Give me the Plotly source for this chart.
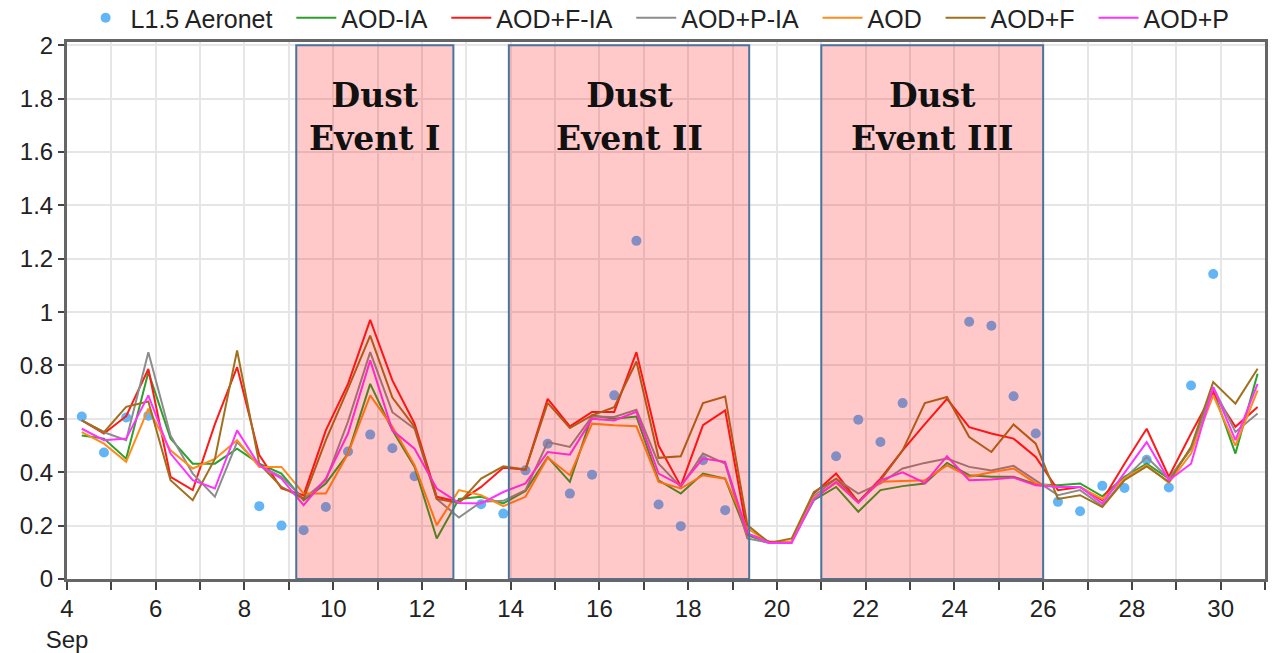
import pandas as pd
import plotly.graph_objects as go

# 12-hourly time stamps, Sep 4 08:00 to Sep 30 20:00
times = pd.date_range("2020-09-04 08:00", "2020-09-30 20:00", freq="12h")

aeronet = [0.609, 0.474, 0.605, 0.612, None, None, None, None, 0.273, 0.20,
           0.183, 0.27, 0.478, 0.541, 0.49, 0.385, None, None, 0.28, 0.245,
           0.407, 0.507, 0.32, 0.391, 0.688, 1.267, 0.279, 0.198, 0.445, 0.258,
           None, None, None, None, 0.46, 0.597, 0.513, 0.659, None, None,
           0.964, 0.949, 0.685, 0.545, 0.289, 0.254, 0.349, 0.341, 0.447, 0.343,
           0.725, 1.143, None, None]

aod_ia = [0.538, 0.526, 0.451, 0.775, 0.526, 0.432, 0.432, 0.488, 0.432, 0.395,
          0.295, 0.358, 0.47, 0.731, 0.557, 0.42, 0.152, 0.30, 0.308, 0.283,
          0.33, 0.457, 0.364, 0.613, 0.60, 0.609, 0.37, 0.32, 0.395, 0.376,
          0.164, 0.135, 0.14, 0.295, 0.345, 0.252, 0.333, 0.348, 0.358, 0.435,
          0.389, 0.383, 0.383, 0.355, 0.351, 0.358, 0.31, 0.383, 0.432, 0.376,
          0.488, 0.707, 0.47, 0.769]

aod_f_ia = [0.594, 0.545, 0.61, 0.787, 0.383, 0.333, 0.58, 0.794, 0.464, 0.339,
            0.314, 0.557, 0.731, 0.971, 0.744, 0.582, 0.308, 0.289, 0.345, 0.417,
            0.41, 0.675, 0.572, 0.626, 0.626, 0.85, 0.50, 0.348, 0.576, 0.632,
            0.17, 0.14, 0.14, 0.32, 0.395, 0.289, 0.376, 0.482, 0.58, 0.675,
            0.569, 0.545, 0.526, 0.457, 0.333, 0.345, 0.295, 0.432, 0.563, 0.383,
            0.545, 0.70, 0.57, 0.644]

aod_p_ia = [0.594, 0.55, 0.52, 0.85, 0.538, 0.395, 0.308, 0.513, 0.426, 0.383,
            0.30, 0.37, 0.59, 0.85, 0.625, 0.563, 0.30, 0.23, 0.289, 0.293,
            0.333, 0.513, 0.495, 0.609, 0.607, 0.634, 0.432, 0.345, 0.47, 0.432,
            0.152, 0.135, 0.14, 0.31, 0.376, 0.32, 0.358, 0.414, 0.435, 0.451,
            0.42, 0.407, 0.424, 0.37, 0.314, 0.333, 0.273, 0.376, 0.457, 0.376,
            0.488, 0.719, 0.551, 0.62]

aod = [0.55, 0.507, 0.439, 0.638, 0.482, 0.414, 0.45, 0.52, 0.42, 0.42,
       0.32, 0.32, 0.47, 0.688, 0.57, 0.426, 0.202, 0.333, 0.314, 0.273,
       0.308, 0.455, 0.389, 0.582, 0.576, 0.572, 0.364, 0.339, 0.389, 0.376,
       0.19, 0.135, 0.14, 0.305, 0.36, 0.289, 0.364, 0.366, 0.37, 0.426,
       0.383, 0.40, 0.414, 0.358, 0.345, 0.345, 0.30, 0.376, 0.426, 0.36,
       0.47, 0.688, 0.50, 0.707]

aod_f = [0.594, 0.55, 0.645, 0.665, 0.37, 0.295, 0.45, 0.856, 0.432, 0.345,
         0.30, 0.52, 0.713, 0.912, 0.68, 0.57, 0.30, 0.285, 0.376, 0.422,
         0.41, 0.66, 0.566, 0.613, 0.644, 0.815, 0.454, 0.46, 0.659, 0.684,
         0.202, 0.135, 0.152, 0.326, 0.376, 0.289, 0.37, 0.482, 0.659, 0.682,
         0.532, 0.476, 0.579, 0.507, 0.30, 0.314, 0.27, 0.37, 0.422, 0.364,
         0.495, 0.738, 0.657, 0.788]

aod_p = [0.563, 0.52, 0.526, 0.688, 0.47, 0.37, 0.339, 0.557, 0.426, 0.376,
         0.277, 0.376, 0.545, 0.819, 0.557, 0.488, 0.339, 0.285, 0.283, 0.326,
         0.358, 0.476, 0.466, 0.60, 0.594, 0.626, 0.395, 0.351, 0.451, 0.439,
         0.171, 0.135, 0.135, 0.30, 0.364, 0.285, 0.37, 0.40, 0.36, 0.46,
         0.37, 0.373, 0.38, 0.351, 0.345, 0.345, 0.283, 0.40, 0.513, 0.37,
         0.432, 0.719, 0.52, 0.731]

event_starts = ["2020-09-09 04:00", "2020-09-13 23:00", "2020-09-21 00:00"]
event_ends = ["2020-09-12 17:00", "2020-09-19 09:00", "2020-09-26 00:00"]
event_labels = ["Dust<br>Event I", "Dust<br>Event II", "Dust<br>Event III"]
event_label_y = 1.73

tick_dates = pd.date_range("2020-09-04", "2020-09-30", freq="2D")
tick_labels = ["4<br>Sep", "6", "8", "10", "12", "14", "16", "18", "20",
               "22", "24", "26", "28", "30"]

series = [
    ("AOD-IA", aod_ia, "#2ca02c"),
    ("AOD+F-IA", aod_f_ia, "#ff1a1a"),
    ("AOD+P-IA", aod_p_ia, "#8c8c8c"),
    ("AOD", aod, "#ff8c1a"),
    ("AOD+F", aod_f, "#a0701c"),
    ("AOD+P", aod_p, "#ff33ff"),
]

PAD = "\u00a0" * 2  # extra spacing between legend entries

fig = go.Figure()
fig.add_trace(go.Scatter(x=times, y=aeronet, mode="markers", name="L1.5 Aeronet" + PAD,
                         marker=dict(color="#64b5f6", size=10)))
for k, (name, vals, col) in enumerate(series):
    label = name + (PAD if k < len(series) - 1 else "")
    fig.add_trace(go.Scatter(x=times, y=vals, mode="lines", name=label,
                             line=dict(color=col, width=2)))

for s, e, lab in zip(event_starts, event_ends, event_labels):
    fig.add_shape(type="rect", xref="x", yref="y", x0=s, x1=e, y0=0, y1=2,
                  fillcolor="rgba(255,0,0,0.21)", line=dict(color="#4a74a0", width=2),
                  layer="above")
    mid = pd.Timestamp(s) + (pd.Timestamp(e) - pd.Timestamp(s)) / 2
    bold = "<b>" + lab.replace("<br>", "</b><br><b>") + "</b>"
    fig.add_annotation(x=mid, y=event_label_y, text=bold, showarrow=False,
                       font=dict(family="DejaVu Serif", size=33, color="#111"),
                       xanchor="center", yanchor="middle")

fig.update_layout(
    width=1281, height=653,
    margin=dict(l=67, r=16, t=42, b=74, autoexpand=False),
    paper_bgcolor="white", plot_bgcolor="white",
    font=dict(family="Liberation Sans, Arial", size=24, color="#222"),
    legend=dict(orientation="h", x=0.493, xanchor="center", xref="paper",
                y=1 - 18 / 653, yref="container", yanchor="middle",
                font=dict(size=25), itemwidth=40, bgcolor="rgba(0,0,0,0)"),
    showlegend=True,
)
fig.update_xaxes(
    type="date", range=["2020-09-04", "2020-10-01"],
    tickvals=tick_dates, ticktext=tick_labels,
    ticks="outside", ticklen=8, tickwidth=2, tickcolor="#444",
    ticklabelstandoff=-2,
    showgrid=True, gridcolor="#e6e6e6", gridwidth=2,
    minor=dict(dtick=86400000, ticks="outside", ticklen=8, tickwidth=2,
               tickcolor="#444", showgrid=True, gridcolor="#e6e6e6", gridwidth=2),
    showline=True, linecolor="#666", linewidth=3, mirror=True,
    zeroline=False, automargin=False,
)
fig.update_yaxes(
    range=[0, 2.012], tickvals=[0, 0.2, 0.4, 0.6, 0.8, 1, 1.2, 1.4, 1.6, 1.8, 2],
    ticktext=["0", "0.2", "0.4", "0.6", "0.8", "1", "1.2", "1.4", "1.6", "1.8", "2"],
    ticks="outside", ticklen=6, tickwidth=2, tickcolor="#444",
    showgrid=True, gridcolor="#e6e6e6", gridwidth=2,
    showline=True, linecolor="#666", linewidth=3, mirror=True,
    zeroline=False, automargin=False,
)

fig.write_html("out.html", config={"displayModeBar": False},
               post_script="document.body.style.margin='0';")
